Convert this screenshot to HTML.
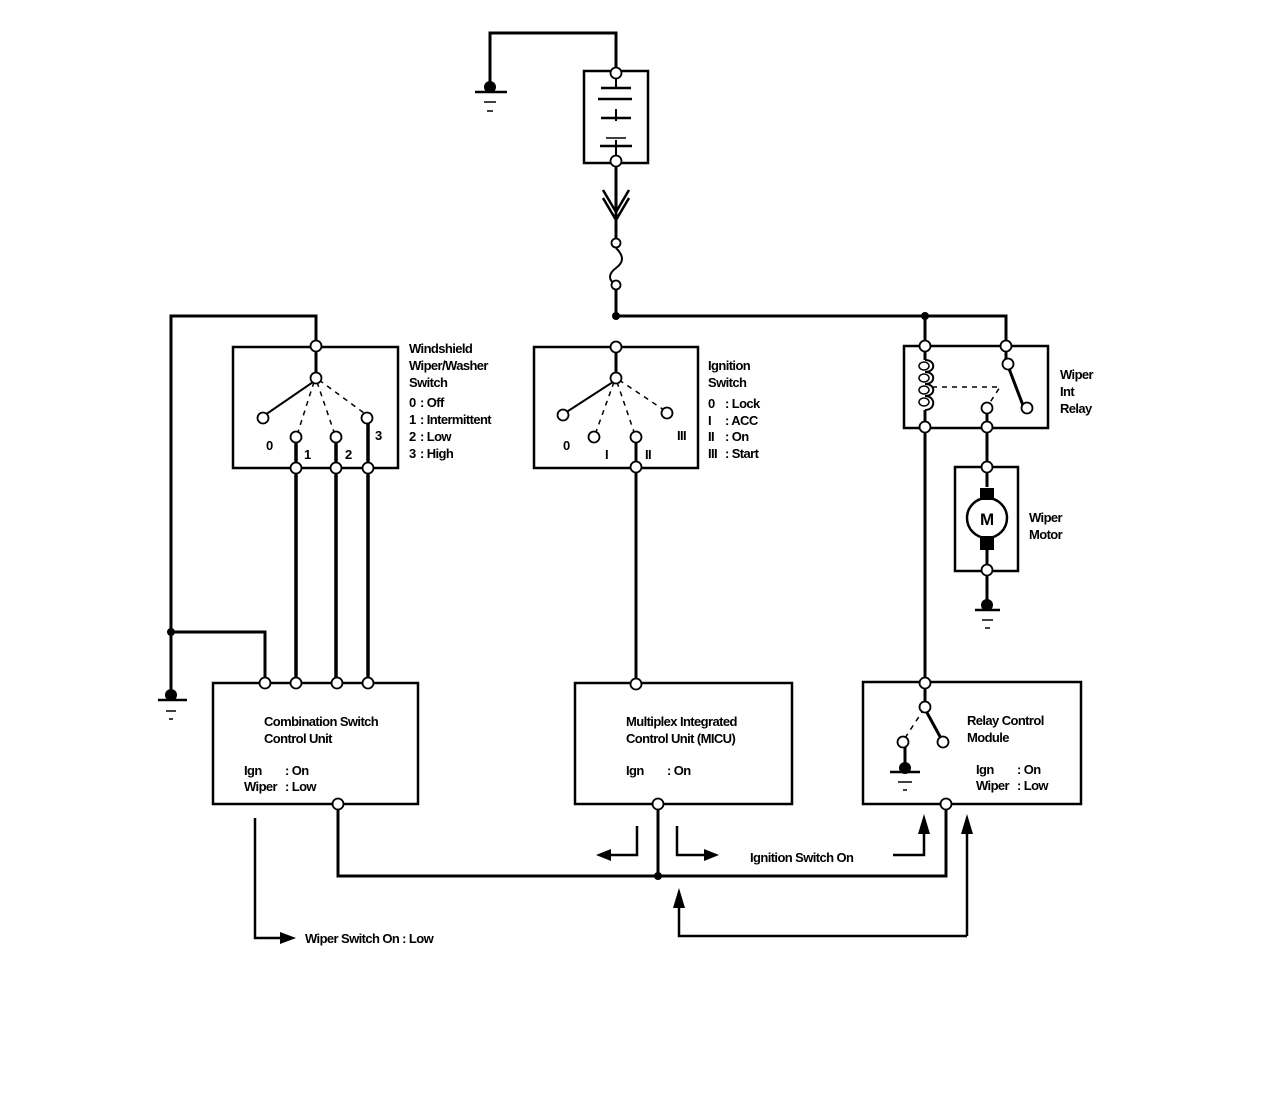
<!DOCTYPE html>
<html><head><meta charset="utf-8"><style>
html,body{margin:0;padding:0;background:#fff;}
svg{display:block;}
text{font-family:"Liberation Sans",sans-serif;font-weight:bold;font-size:13px;fill:#000;letter-spacing:-0.6px;}
</style></head><body>
<svg width="1280" height="1102" viewBox="0 0 1280 1102" xmlns="http://www.w3.org/2000/svg">
<g fill="none" stroke="#000" stroke-width="3">
<path d="M616 73 V33 H490 V87"/>
<rect x="584" y="71" width="64" height="92" stroke-width="2.5"/>
<path d="M616 73 V88 M616 109 V121 M616 140 V161" stroke-width="2"/>
<path d="M601 88 H631 M598 99 H632 M601 118 H631 M600 146 H632" stroke-width="2.5"/>
<path d="M606 138 H626" stroke-width="1.5"/>
<path d="M475 92 H507" stroke-width="2.5"/>
<path d="M484 102 H496 M487 111 H493" stroke-width="1.5"/>
<path d="M616 161 V243"/>
<path d="M603 190 L616 212 L629 190 M603 198 L616 220 L629 198" stroke-width="2.5"/>
<path d="M616 248 C624 256 624 262 616 268 C608 274 608 280 616 285" stroke-width="2"/>
<path d="M616 289 V316 H1006 V346"/>
<path d="M925 316 V346"/>
<rect x="534" y="347" width="164" height="121" stroke-width="2.5"/>
<path d="M616 347 V378"/>
<path d="M616 380 L565 413" stroke-width="2"/>
<path d="M614 382 L596 432 M617 382 L634 432 M619 380 L664 410" stroke-width="1.5" stroke-dasharray="5 5"/>
<path d="M636 437 V684"/>
<path d="M316 346 V316 H171 V695"/>
<path d="M171 632 H265 V683"/>
<rect x="233" y="347" width="165" height="121" stroke-width="2.5"/>
<path d="M316 347 V378"/>
<path d="M316 380 L265 415" stroke-width="2"/>
<path d="M314 382 L298 432 M317 382 L334 432 M319 380 L364 413" stroke-width="1.5" stroke-dasharray="5 5"/>
<path d="M296 437 V683 M336 437 V683 M368 418 V683" stroke-width="3.5"/>
<rect x="904" y="346" width="144" height="82" stroke-width="2.5"/>
<path d="M925 346 V360 M925 410 V683"/>
<path d="M925 360 C936 360 936 372 925 372 C936 372 936 384 925 384 C936 384 936 396 925 396 C936 396 936 410 925 410" stroke-width="2"/>
<ellipse cx="924" cy="366" rx="5" ry="4" stroke-width="1.5"/><ellipse cx="924" cy="378" rx="5" ry="4" stroke-width="1.5"/><ellipse cx="924" cy="390" rx="5" ry="4" stroke-width="1.5"/><ellipse cx="924" cy="402" rx="5" ry="4" stroke-width="1.5"/>
<path d="M932 387 H1000 L989 404" stroke-width="1.5" stroke-dasharray="5 5"/>
<path d="M1006 346 V364 M1008 366 L1024 408"/>
<path d="M987 408 V467"/>
<rect x="955" y="467" width="63" height="104" stroke-width="2.5"/>
<path d="M987 467 V487 M987 550 V605"/>
<circle cx="987" cy="518" r="20" stroke-width="2.5"/>
<path d="M975 610 H1000" stroke-width="2.5"/><path d="M982 620 H993 M985 628 H990" stroke-width="1.5"/>
<rect x="213" y="683" width="205" height="121" stroke-width="2.5"/>
<rect x="575" y="683" width="217" height="121" stroke-width="2.5"/>
<rect x="863" y="682" width="218" height="122" stroke-width="2.5"/>
<path d="M158 700 H187" stroke-width="2.5"/><path d="M166 711 H176 M169 719 H173" stroke-width="1.5"/>
<path d="M925 683 V707 M925 709 L943 742"/>
<path d="M905 738 L922 712" stroke-width="1.5" stroke-dasharray="5 5"/>
<path d="M905 742 V768"/>
<path d="M890 772 H920" stroke-width="2.5"/><path d="M898 782 H912 M903 790 H907" stroke-width="1.5"/>
<path d="M338 804 V876 H946 V804"/>
<path d="M658 804 V876"/>
<path d="M637 826 V855 H610" stroke-width="2.5"/>
<path d="M677 826 V855 H705" stroke-width="2.5"/>
<path d="M893 855 H924 V832" stroke-width="2.5"/>
<path d="M967 936 V832" stroke-width="2.5"/>
<path d="M967 936 H679 V905" stroke-width="2.5"/>
<path d="M255 818 V938 H282" stroke-width="2.5"/>
</g>
<g fill="#000">
<polygon points="596,855 611,849 611,861"/>
<polygon points="719,855 704,849 704,861"/>
<polygon points="924,814 918,834 930,834"/>
<polygon points="967,814 961,834 973,834"/>
<polygon points="679,888 673,908 685,908"/>
<polygon points="296,938 280,932 280,944"/>
</g>
<rect x="980" y="488" width="14" height="12" fill="#000"/>
<rect x="980" y="536" width="14" height="14" fill="#000"/>
<g fill="#000">
<circle cx="490" cy="87" r="6"/><circle cx="616" cy="316" r="4"/><circle cx="925" cy="316" r="4"/>
<circle cx="171" cy="632" r="4"/><circle cx="171" cy="695" r="6"/><circle cx="987" cy="605" r="6"/>
<circle cx="905" cy="768" r="6"/><circle cx="658" cy="876" r="4"/>
</g>
<g fill="#fff" stroke="#000" stroke-width="1.8">
<circle cx="616" cy="73" r="5.5"/><circle cx="616" cy="161" r="5.5"/>
<circle cx="616" cy="243" r="4.5"/><circle cx="616" cy="285" r="4.5"/>
<circle cx="616" cy="347" r="5.5"/><circle cx="616" cy="378" r="5.5"/>
<circle cx="563" cy="415" r="5.5"/><circle cx="594" cy="437" r="5.5"/><circle cx="636" cy="437" r="5.5"/><circle cx="667" cy="413" r="5.5"/><circle cx="636" cy="467" r="5.5"/>
<circle cx="316" cy="346" r="5.5"/><circle cx="316" cy="378" r="5.5"/>
<circle cx="263" cy="418" r="5.5"/><circle cx="296" cy="437" r="5.5"/><circle cx="336" cy="437" r="5.5"/><circle cx="367" cy="418" r="5.5"/>
<circle cx="296" cy="468" r="5.5"/><circle cx="336" cy="468" r="5.5"/><circle cx="368" cy="468" r="5.5"/>
<circle cx="925" cy="346" r="5.5"/><circle cx="925" cy="427" r="5.5"/><circle cx="1006" cy="346" r="5.5"/><circle cx="1008" cy="364" r="5.5"/>
<circle cx="1027" cy="408" r="5.5"/><circle cx="987" cy="408" r="5.5"/><circle cx="987" cy="427" r="5.5"/>
<circle cx="987" cy="467" r="5.5"/><circle cx="987" cy="570" r="5.5"/>
<circle cx="265" cy="683" r="5.5"/><circle cx="296" cy="683" r="5.5"/><circle cx="337" cy="683" r="5.5"/><circle cx="368" cy="683" r="5.5"/><circle cx="338" cy="804" r="5.5"/>
<circle cx="636" cy="684" r="5.5"/><circle cx="658" cy="804" r="5.5"/>
<circle cx="925" cy="683" r="5.5"/><circle cx="925" cy="707" r="5.5"/><circle cx="903" cy="742" r="5.5"/><circle cx="943" cy="742" r="5.5"/><circle cx="946" cy="804" r="5.5"/>
</g>
<text x="980" y="525" style="font-size:17px">M</text>
<text x="409" y="353">Windshield</text><text x="409" y="370">Wiper/Washer</text><text x="409" y="387">Switch</text>
<text x="409" y="407">0</text><text x="409" y="424">1</text><text x="409" y="441">2</text><text x="409" y="458">3</text>
<text x="420" y="407">: Off</text><text x="420" y="424">: Intermittent</text><text x="420" y="441">: Low</text><text x="420" y="458">: High</text>
<text x="266" y="450">0</text><text x="304" y="459">1</text><text x="345" y="459">2</text><text x="375" y="440">3</text>
<text x="708" y="370">Ignition</text><text x="708" y="387">Switch</text>
<text x="708" y="408">0</text><text x="708" y="425">I</text><text x="708" y="441">II</text><text x="708" y="458">III</text>
<text x="725" y="408">: Lock</text><text x="725" y="425">: ACC</text><text x="725" y="441">: On</text><text x="725" y="458">: Start</text>
<text x="563" y="450">0</text><text x="605" y="459">I</text><text x="645" y="459">II</text><text x="677" y="440">III</text>
<text x="1060" y="379">Wiper</text><text x="1060" y="396">Int</text><text x="1060" y="413">Relay</text>
<text x="1029" y="522">Wiper</text><text x="1029" y="539">Motor</text>
<text x="264" y="726">Combination Switch</text><text x="264" y="743">Control Unit</text>
<text x="244" y="775">Ign</text><text x="285" y="775">: On</text><text x="244" y="791">Wiper</text><text x="285" y="791">: Low</text>
<text x="626" y="726">Multiplex Integrated</text><text x="626" y="743">Control Unit (MICU)</text>
<text x="626" y="775">Ign</text><text x="667" y="775">: On</text>
<text x="967" y="725">Relay Control</text><text x="967" y="742">Module</text>
<text x="976" y="774">Ign</text><text x="1017" y="774">: On</text><text x="976" y="790">Wiper</text><text x="1017" y="790">: Low</text>
<text x="750" y="862">Ignition Switch On</text>
<text x="305" y="943">Wiper Switch On : Low</text>
</svg>
</body></html>
